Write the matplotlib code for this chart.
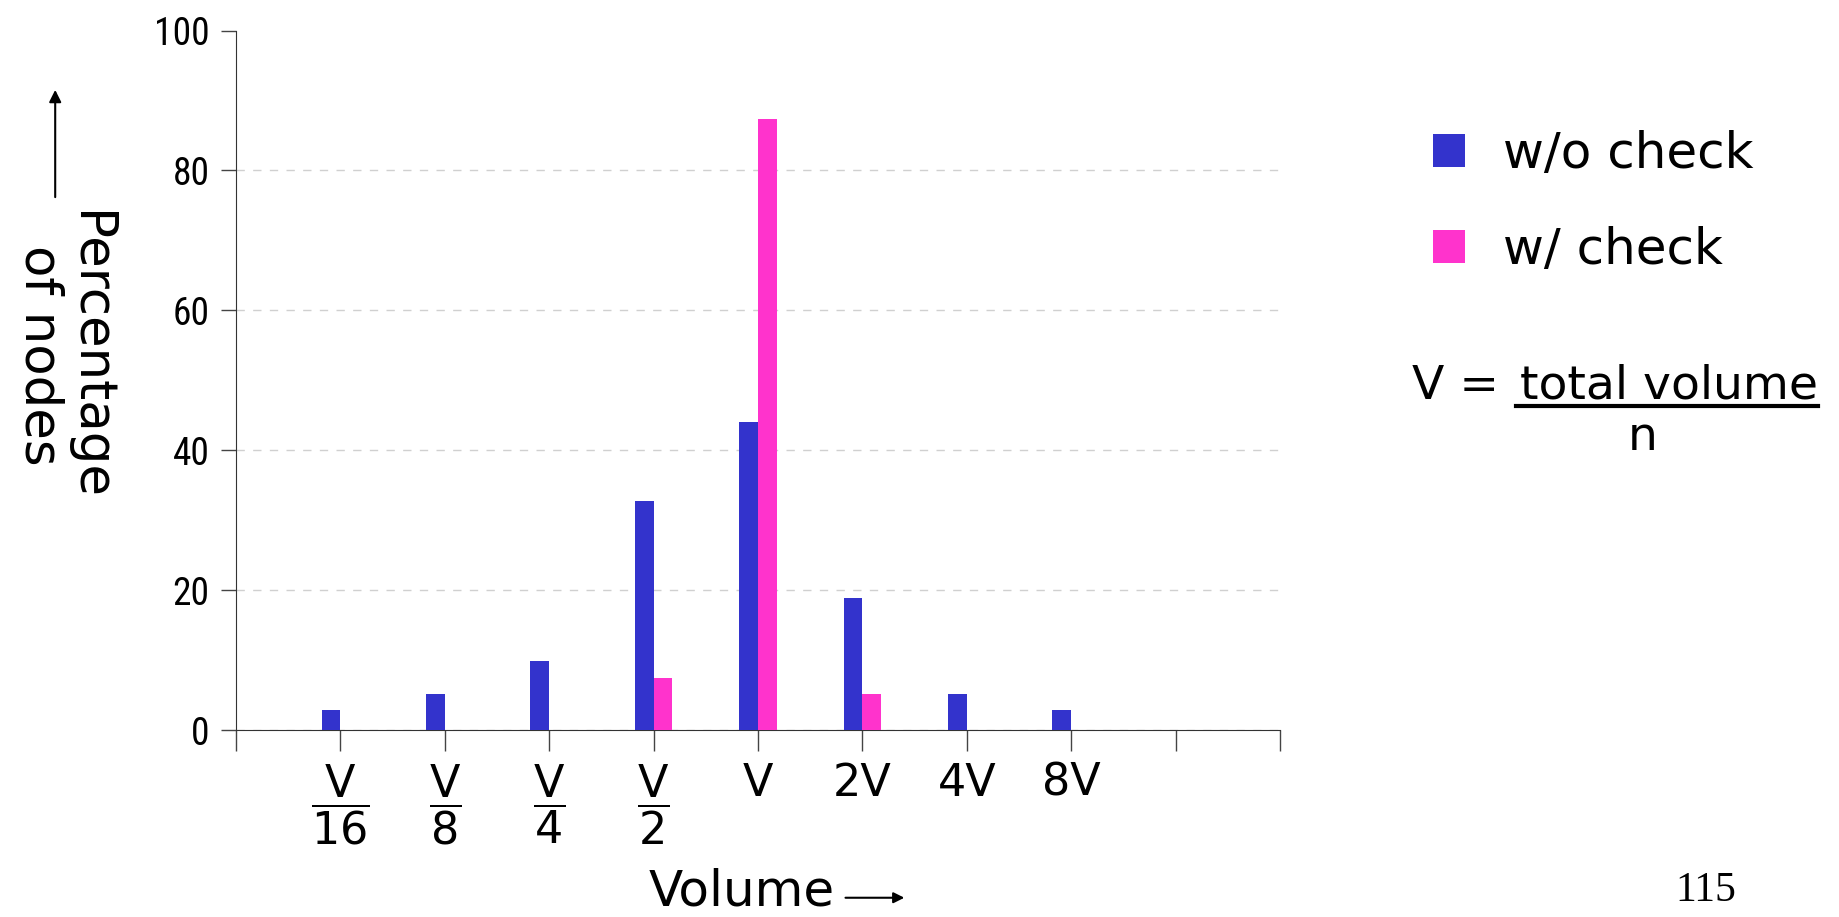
import matplotlib
matplotlib.use("Agg")
import matplotlib.pyplot as plt
from matplotlib import font_manager as fm
from matplotlib.lines import Line2D
import numpy as np

# data
categories = ["V/16", "V/8", "V/4", "V/2", "V", "2V", "4V", "8V"]
tick_labels = [r"$\dfrac{\mathrm{V}}{\mathrm{16}}$", r"$\dfrac{\mathrm{V}}{\mathrm{8}}$",
               r"$\dfrac{\mathrm{V}}{\mathrm{4}}$", r"$\dfrac{\mathrm{V}}{\mathrm{2}}$",
               "V", "2V", "4V", "8V"]
without_check = [2.8, 5.2, 9.8, 32.7, 44.1, 18.9, 5.2, 2.8]
with_check = [0, 0, 0, 7.5, 87.4, 5.2, 0, 0]
y_ticks = [0, 20, 40, 60, 80, 100]

BLUE = "#3333cc"
PINK = "#ff33cc"

names = {f.name for f in fm.fontManager.ttflist}
NARROW = next((n for n in ["Liberation Sans Narrow", "Roboto Condensed",
                           "Open Sans Condensed", "Liberation Sans"] if n in names),
              "DejaVu Sans")
HAND = "DejaVu Sans"
plt.rcParams["mathtext.fontset"] = "dejavusans"

fig = plt.figure(figsize=(18.4, 9.17), dpi=100)
ax = fig.add_axes([0.1283, 0.2039, 0.5674, 0.7628])

x = np.arange(1, len(categories) + 1)
w = 0.18
b1 = ax.bar(x - w / 2, without_check, w, color=BLUE, zorder=3, label="w/o check")
b2 = ax.bar(x + w / 2, with_check, w, color=PINK, zorder=3, label="w/ check")

ax.set_xlim(0, len(categories) + 2)
ax.set_ylim(0, 100)
ax.set_xticks(np.arange(0, len(categories) + 3))
ax.set_xticklabels([""] + tick_labels + ["", ""], fontfamily=HAND, fontsize=32)
ax.set_yticks(y_ticks)
ax.set_yticklabels([str(v) for v in y_ticks], fontfamily=NARROW, fontsize=27)

ax.tick_params(axis="x", direction="out", length=15, width=1, color="#444444", pad=8)
ax.tick_params(axis="y", direction="out", length=11, width=1, color="#444444", pad=8)
for s in ("top", "right"):
    ax.spines[s].set_visible(False)
ax.spines["left"].set_color("#333333")
ax.spines["bottom"].set_color("#333333")

ax.yaxis.grid(True, linestyle=(0, (6, 6)), color="#d0d0d0", linewidth=1, zorder=0)
ax.yaxis.get_gridlines()[-1].set_visible(False)
ax.set_axisbelow(True)

# y label with arrow
fig.text(0.035, 0.612, "Percentage\nof nodes", rotation=270, ha="center", va="center",
         fontfamily=HAND, fontsize=37, linespacing=1.0, multialignment="center")
ax.annotate("", xy=(0.030, 0.905), xytext=(0.030, 0.782),
            xycoords="figure fraction", textcoords="figure fraction",
            arrowprops=dict(arrowstyle="-|>", color="black", lw=1.5, mutation_scale=18))

# x label with arrow
fig.text(0.403, 0.013, "Volume", ha="center", va="baseline",
         fontfamily=HAND, fontsize=36)
ax.annotate("", xy=(0.493, 0.021), xytext=(0.458, 0.021),
            xycoords="figure fraction", textcoords="figure fraction",
            arrowprops=dict(arrowstyle="-|>", color="black", lw=1.5, mutation_scale=16))

# legend
fig.legend(handles=[b1, b2], loc="upper left", bbox_to_anchor=(0.779, 0.858),
           frameon=False, prop={"family": HAND, "size": 36},
           handlelength=0.64, handleheight=0.64, handletextpad=0.75,
           labelspacing=0.96, borderpad=0, borderaxespad=0)

# V = total volume / n
fig.text(0.791, 0.565, "V =", ha="center", va="baseline",
         fontfamily=HAND, fontsize=34)
fig.text(0.907, 0.565, "total volume", ha="center", va="baseline",
         fontfamily=HAND, fontsize=34)
fig.add_artist(Line2D([0.824, 0.988], [0.557, 0.557], transform=fig.transFigure,
                      color="black", lw=3))
fig.text(0.893, 0.523, "n", ha="center", va="center",
         fontfamily=HAND, fontsize=34)

fig.text(0.927, 0.017, "115", ha="center", va="baseline",
         fontfamily="Liberation Serif", fontsize=30)

fig.savefig("out.png", dpi=100)
